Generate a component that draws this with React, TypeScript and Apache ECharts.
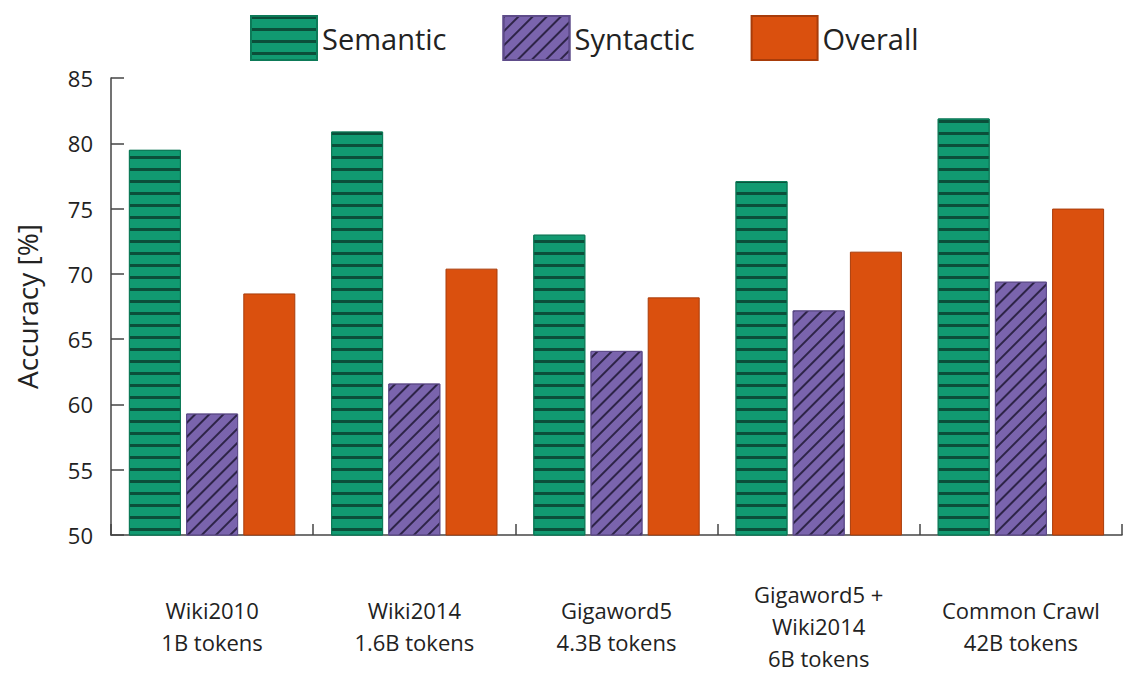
import React, { useEffect, useRef } from "react";
import * as echarts from "echarts";

const categories = [
  "Wiki2010\n1B tokens",
  "Wiki2014\n1.6B tokens",
  "Gigaword5\n4.3B tokens",
  "Gigaword5 +\nWiki2014\n6B tokens",
  "Common Crawl\n42B tokens",
];
const semantic = [79.5, 80.9, 73.0, 77.1, 81.9];
const syntactic = [59.3, 61.6, 64.1, 67.2, 69.4];
const overall = [68.5, 70.4, 68.2, 71.7, 75.0];
const yTicks = { min: 50, max: 85, interval: 5 };

const FONT = "'Open Sans', 'Noto Sans', sans-serif";

export default function App() {
  const ref = useRef<HTMLDivElement>(null);
  useEffect(() => {
    if (!ref.current) return;
    const chart = echarts.init(ref.current, undefined, { renderer: "svg" });
    chart.setOption({
      animation: false,
      backgroundColor: "#ffffff",
      textStyle: { fontFamily: FONT },
      legend: {
        top: 10,
        left: 245,
        itemWidth: 66,
        itemHeight: 44,
        itemGap: 56,
        icon: "rect",
        textStyle: { fontSize: 29, color: "#222", fontFamily: FONT },
        data: ["Semantic", "Syntactic", "Overall"],
      },
      grid: { left: 111, right: 14, top: 78, bottom: 141, containLabel: false },
      xAxis: {
        type: "category",
        data: categories,
        axisLine: { lineStyle: { color: "#444", width: 1.5 } },
        axisTick: { show: true, inside: true, length: 11, alignWithLabel: false, lineStyle: { color: "#444", width: 1.5 } },
        axisLabel: {
          fontSize: 22,
          color: "#222",
          lineHeight: 32,
          margin: 91,
          verticalAlign: "middle",
          interval: 0,
          fontFamily: FONT,
        },
      },
      yAxis: {
        type: "value",
        min: yTicks.min,
        max: yTicks.max,
        interval: yTicks.interval,
        name: "Accuracy [%]",
        nameLocation: "middle",
        nameGap: 70,
        nameTextStyle: { fontSize: 28, color: "#222", fontFamily: FONT },
        splitLine: { show: false },
        axisLine: { show: true, lineStyle: { color: "#444", width: 1.5 } },
        axisTick: { show: true, inside: true, length: 13, lineStyle: { color: "#444", width: 1.5 } },
        axisLabel: { fontSize: 22, color: "#222", margin: 18, fontFamily: FONT },
      },
      series: [
        {
          name: "Semantic",
          type: "bar",
          data: semantic,
          barWidth: 52,
          barGap: "10%",
          itemStyle: {
            color: "#119a71",
            borderColor: "#0d7a58",
            borderWidth: 1,
            decal: {
              symbol: "rect",
              symbolSize: 1,
              color: "#0b4f3a",
              dashArrayX: [1, 0],
              dashArrayY: [2.5, 8.3],
              rotation: 0,
            },
          },
        },
        {
          name: "Syntactic",
          type: "bar",
          data: syntactic,
          barWidth: 52,
          barGap: "10%",
          itemStyle: {
            color: "#7a64ad",
            borderColor: "#5e4c8a",
            borderWidth: 1,
            decal: {
              symbol: "rect",
              symbolSize: 1,
              color: "#2e2448",
              dashArrayX: [1, 0],
              dashArrayY: [1.5, 8],
              rotation: -Math.PI / 4,
            },
          },
        },
        {
          name: "Overall",
          type: "bar",
          data: overall,
          barWidth: 52,
          barGap: "10%",
          itemStyle: {
            color: "#da500e",
            borderColor: "#a83c0a",
            borderWidth: 1,
          },
        },
      ],
    });
    return () => chart.dispose();
  }, []);
  return (
    <div
      ref={ref}
      style={{ position: "fixed", left: 0, top: 0, width: 1136, height: 676 }}
    />
  );
}
